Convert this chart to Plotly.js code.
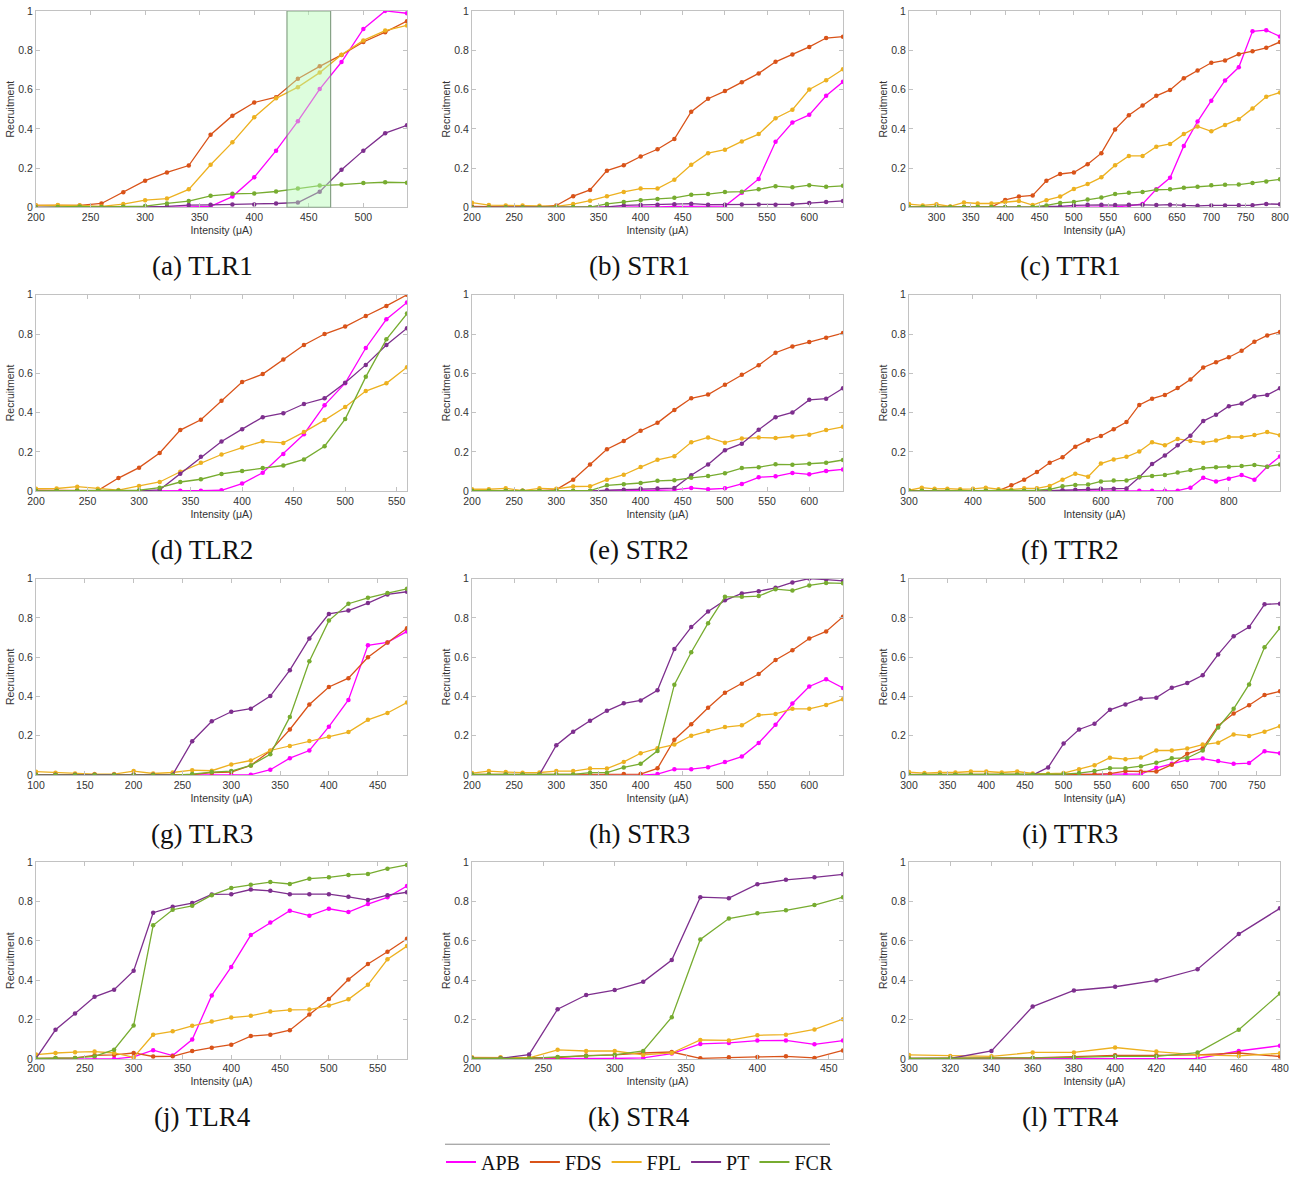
<!DOCTYPE html>
<html>
<head>
<meta charset="utf-8">
<script src="https://cdn.plot.ly/plotly-3.0.1.min.js"></script>
<style>html,body{margin:0;padding:0;background:#fff;}#chart{width:1293px;height:1182px;}</style>
</head>
<body>
<div id="chart"></div>
<script>
// ---------- series names and colours ----------
const muscles = ["APB", "FDS", "FPL", "PT", "FCR"];
const muscleColors = ["#FF00FF", "#D95319", "#EDB120", "#7E2F8E", "#77AC30"];

// ---------- (a) TLR1 ----------
const TLR1_x = [200,220,240,260,280,300,320,340,360,380,400,420,440,460,480,500,520,540];
const TLR1_APB = [0,0,0,0,0,0,0,0.002,0.005,0.055,0.153,0.289,0.439,0.602,0.74,0.908,1.0,0.988];
const TLR1_FDS = [0.01,0.01,0.01,0.02,0.077,0.136,0.178,0.213,0.37,0.467,0.534,0.561,0.655,0.718,0.776,0.842,0.892,0.948];
const TLR1_FPL = [0.01,0.012,0.01,0.005,0.017,0.037,0.045,0.092,0.217,0.331,0.459,0.555,0.612,0.686,0.777,0.85,0.9,0.926];
const TLR1_PT  = [0,0,0,0,0.002,0.003,0.005,0.012,0.013,0.015,0.015,0.02,0.025,0.08,0.192,0.289,0.378,0.418];
const TLR1_FCR = [0,0.002,0.005,0.002,0.003,0.007,0.02,0.032,0.059,0.069,0.071,0.081,0.096,0.111,0.116,0.124,0.128,0.126];
const TLR1_highlight = [430, 470];

// ---------- (b) STR1 ----------
const STR1_x = [200,220,240,260,280,300,320,340,360,380,400,420,440,460,480,500,520,540,560,580,600,620,640];
const STR1_APB = [0,0,0,0,0,0,0,0,0.002,0.002,0.002,0.003,0.005,0.005,0.005,0.007,0.074,0.145,0.334,0.432,0.471,0.568,0.639];
const STR1_FDS = [0.005,0.003,0.003,0.003,0.003,0.01,0.057,0.089,0.187,0.215,0.259,0.296,0.348,0.487,0.553,0.592,0.637,0.682,0.741,0.778,0.817,0.862,0.869];
const STR1_FPL = [0.024,0.012,0.01,0.01,0.008,0.005,0.017,0.034,0.057,0.079,0.096,0.096,0.141,0.217,0.276,0.294,0.336,0.373,0.454,0.497,0.6,0.647,0.703];
const STR1_PT  = [0,0,0,0,0,0,0,0,0.003,0.01,0.012,0.014,0.016,0.019,0.014,0.014,0.015,0.015,0.013,0.016,0.022,0.028,0.033];
const STR1_FCR = [0,0,0,0,0,0.002,0.002,0.002,0.018,0.028,0.037,0.043,0.049,0.064,0.068,0.078,0.08,0.092,0.108,0.102,0.113,0.105,0.11];

// ---------- (c) TTR1 ----------
const TTR1_x = [260,280,300,320,340,360,380,400,420,440,460,480,500,520,540,560,580,600,620,640,660,680,700,720,740,760,780,800];
const TTR1_APB = [0,0,0,0,0,0,0,0,0,0,0.002,0.002,0.002,0.003,0.003,0.003,0.008,0.018,0.092,0.151,0.313,0.437,0.543,0.646,0.713,0.896,0.902,0.87];
const TTR1_FDS = [0.002,0.002,0,0.003,0.002,0.002,0.002,0.038,0.055,0.061,0.136,0.17,0.178,0.22,0.276,0.397,0.469,0.519,0.568,0.598,0.657,0.697,0.736,0.748,0.78,0.795,0.812,0.842];
const TTR1_FPL = [0.017,0.01,0.016,0.005,0.025,0.02,0.02,0.028,0.033,0.012,0.037,0.055,0.094,0.119,0.153,0.215,0.262,0.262,0.309,0.323,0.373,0.412,0.387,0.42,0.449,0.504,0.563,0.585];
const TTR1_PT  = [0,0,0,0,0,0,0,0,0,0,0.005,0.005,0.01,0.013,0.013,0.012,0.014,0.013,0.012,0.014,0.01,0.008,0.01,0.01,0.011,0.011,0.018,0.016];
const TTR1_FCR = [0.002,0.002,0.002,0.002,0.002,0.002,0.002,0.002,0.002,0.002,0.01,0.023,0.028,0.04,0.05,0.068,0.074,0.079,0.09,0.092,0.1,0.105,0.113,0.115,0.116,0.124,0.132,0.143];

// ---------- (d) TLR2 ----------
const TLR2_x = [200,220,240,260,280,300,320,340,360,380,400,420,440,460,480,500,520,540,560];
const TLR2_APB = [0,0,0,0,0,0,0.002,0.003,0.003,0.005,0.039,0.094,0.19,0.29,0.438,0.55,0.729,0.875,0.961];
const TLR2_FDS = [0.005,0.005,0.005,0.003,0.067,0.12,0.195,0.311,0.364,0.46,0.556,0.596,0.67,0.744,0.8,0.838,0.892,0.943,1.0];
const TLR2_FPL = [0.013,0.014,0.023,0.013,0.006,0.027,0.047,0.099,0.145,0.187,0.222,0.254,0.246,0.301,0.362,0.429,0.51,0.549,0.631];
const TLR2_PT  = [0,0,0,0,0,0.002,0.007,0.089,0.175,0.253,0.316,0.377,0.397,0.444,0.473,0.552,0.643,0.744,0.83];
const TLR2_FCR = [0.002,0.002,0.002,0.002,0.002,0.005,0.018,0.047,0.061,0.088,0.103,0.118,0.131,0.162,0.229,0.367,0.582,0.773,0.904];

// ---------- (e) STR2 ----------
const STR2_x = [200,220,240,260,280,300,320,340,360,380,400,420,440,460,480,500,520,540,560,580,600,620,640];
const STR2_APB = [0,0,0,0,0,0,0,0,0.002,0.002,0.003,0.005,0.007,0.017,0.01,0.015,0.037,0.071,0.076,0.093,0.086,0.103,0.111];
const STR2_FDS = [0.003,0.003,0.003,0.003,0.003,0.008,0.059,0.136,0.214,0.256,0.308,0.348,0.414,0.473,0.492,0.542,0.593,0.641,0.705,0.737,0.759,0.781,0.805];
const STR2_FPL = [0.01,0.01,0.015,0.003,0.015,0.012,0.024,0.025,0.059,0.084,0.123,0.16,0.178,0.249,0.274,0.247,0.269,0.273,0.271,0.279,0.288,0.311,0.328];
const STR2_PT  = [0,0,0,0,0,0,0,0,0.005,0.008,0.013,0.014,0.016,0.081,0.136,0.209,0.242,0.313,0.377,0.401,0.465,0.471,0.524];
const STR2_FCR = [0.003,0.003,0.003,0.003,0.003,0.003,0.003,0.003,0.03,0.035,0.042,0.053,0.056,0.068,0.077,0.092,0.118,0.122,0.137,0.135,0.14,0.145,0.159];

// ---------- (f) TTR2 ----------
const TTR2_x = [300,320,340,360,380,400,420,440,460,480,500,520,540,560,580,600,620,640,660,680,700,720,740,760,780,800,820,840,860,880];
const TTR2_APB = [0,0,0,0,0,0,0,0,0,0,0,0,0.002,0.002,0.003,0.003,0.003,0.003,0.002,0.003,0.003,0.003,0.018,0.069,0.049,0.064,0.082,0.059,0.125,0.177];
const TTR2_FDS = [0.003,0.003,0.003,0.003,0.003,0.003,0.003,0.003,0.03,0.059,0.098,0.145,0.173,0.227,0.259,0.281,0.316,0.352,0.439,0.471,0.49,0.525,0.569,0.63,0.657,0.682,0.715,0.761,0.793,0.811];
const TTR2_FPL = [0.005,0.018,0.012,0.013,0.01,0.012,0.018,0.01,0.008,0.015,0.015,0.027,0.059,0.089,0.074,0.141,0.162,0.175,0.202,0.249,0.234,0.266,0.256,0.247,0.258,0.276,0.276,0.286,0.301,0.285];
const TTR2_PT  = [0,0,0,0,0,0,0,0,0,0,0,0.003,0.005,0.007,0.011,0.013,0.013,0.014,0.071,0.138,0.182,0.234,0.283,0.357,0.389,0.433,0.446,0.483,0.49,0.524];
const TTR2_FCR = [0.002,0.002,0.002,0.002,0.002,0.002,0.002,0.002,0.002,0.002,0.005,0.01,0.025,0.032,0.034,0.05,0.054,0.055,0.073,0.078,0.083,0.095,0.108,0.118,0.122,0.124,0.128,0.134,0.125,0.136];

// ---------- (g) TLR3 ----------
const TLR3_x = [100,120,140,160,180,200,220,240,260,280,300,320,340,360,380,400,420,440,460,480];
const TLR3_APB = [0,0,0,0,0,0,0,0,0,0,0.002,0.002,0.027,0.086,0.125,0.246,0.382,0.66,0.675,0.731];
const TLR3_FDS = [0.002,0.002,0.002,0.002,0.002,0.002,0.002,0.002,0.002,0.012,0.015,0.049,0.123,0.232,0.359,0.448,0.493,0.599,0.675,0.747];
const TLR3_FPL = [0.017,0.012,0.008,0.005,0.005,0.02,0.008,0.013,0.025,0.022,0.054,0.074,0.125,0.148,0.173,0.195,0.219,0.281,0.316,0.369];
const TLR3_PT  = [0.002,0.002,0.002,0.002,0.002,0.002,0.002,0.002,0.172,0.274,0.322,0.338,0.402,0.534,0.695,0.82,0.837,0.875,0.919,0.933];
const TLR3_FCR = [0,0,0,0,0,0,0,0,0.005,0.015,0.02,0.049,0.106,0.296,0.579,0.786,0.872,0.902,0.926,0.948];

// ---------- (h) STR3 ----------
const STR3_x = [200,220,240,260,280,300,320,340,360,380,400,420,440,460,480,500,520,540,560,580,600,620,640];
const STR3_APB = [0,0,0,0,0,0,0,0,0,0,0,0.005,0.03,0.03,0.04,0.066,0.094,0.163,0.256,0.364,0.451,0.488,0.443];
const STR3_FDS = [0.003,0.003,0.003,0.003,0.003,0.003,0.003,0.005,0.005,0.005,0.005,0.034,0.18,0.259,0.343,0.419,0.465,0.514,0.586,0.635,0.695,0.731,0.806];
const STR3_FPL = [0.01,0.02,0.015,0.012,0.013,0.02,0.02,0.033,0.033,0.067,0.111,0.136,0.155,0.2,0.224,0.244,0.253,0.305,0.311,0.337,0.337,0.357,0.386];
const STR3_PT  = [0.002,0.002,0.002,0.002,0.002,0.152,0.221,0.276,0.327,0.365,0.38,0.431,0.641,0.753,0.832,0.889,0.924,0.936,0.953,0.98,1.0,0.995,0.988];
const STR3_FCR = [0.003,0.003,0.003,0.003,0.003,0.003,0.003,0.012,0.012,0.039,0.057,0.123,0.46,0.625,0.773,0.907,0.907,0.911,0.946,0.939,0.965,0.978,0.976];

// ---------- (i) TTR3 ----------
const TTR3_x = [300,320,340,360,380,400,420,440,460,480,500,520,540,560,580,600,620,640,660,680,700,720,740,760,780];
const TTR3_APB = [0,0,0,0,0,0,0,0,0,0,0.002,0.003,0.003,0.005,0.005,0.005,0.037,0.057,0.077,0.084,0.072,0.057,0.061,0.121,0.111];
const TTR3_FDS = [0.003,0.003,0.003,0.003,0.003,0.003,0.003,0.003,0.003,0.003,0.003,0.003,0.003,0.007,0.02,0.018,0.018,0.053,0.108,0.136,0.251,0.313,0.355,0.407,0.426];
const TTR3_FPL = [0.015,0.01,0.013,0.013,0.018,0.018,0.013,0.018,0.008,0.007,0.01,0.03,0.05,0.088,0.081,0.089,0.125,0.125,0.135,0.155,0.165,0.207,0.199,0.221,0.249];
const TTR3_PT  = [0,0,0,0,0,0,0,0,0,0.039,0.16,0.232,0.261,0.332,0.359,0.389,0.394,0.444,0.468,0.508,0.614,0.707,0.753,0.869,0.872];
const TTR3_FCR = [0.002,0.002,0.002,0.002,0.002,0.002,0.002,0.002,0.002,0.002,0.005,0.01,0.02,0.035,0.035,0.045,0.062,0.085,0.087,0.125,0.242,0.337,0.461,0.65,0.749];

// ---------- (j) TLR4 ----------
const TLR4_x = [200,220,240,260,280,300,320,340,360,380,400,420,440,460,480,500,520,540,560,580];
const TLR4_APB = [0,0,0,0,0,0.01,0.044,0.017,0.098,0.323,0.468,0.63,0.694,0.754,0.729,0.764,0.747,0.788,0.822,0.88];
const TLR4_FDS = [0.002,0.005,0.005,0.018,0.02,0.03,0.012,0.013,0.04,0.057,0.072,0.116,0.123,0.146,0.226,0.305,0.404,0.483,0.545,0.611];
const TLR4_FPL = [0.022,0.03,0.034,0.037,0.03,0.008,0.123,0.14,0.168,0.19,0.21,0.219,0.241,0.249,0.251,0.271,0.303,0.377,0.507,0.574];
const TLR4_PT  = [0.003,0.148,0.231,0.316,0.352,0.448,0.744,0.774,0.793,0.837,0.838,0.862,0.855,0.838,0.838,0.838,0.825,0.808,0.833,0.848];
const TLR4_FCR = [0.002,0.005,0.005,0.013,0.047,0.17,0.68,0.759,0.779,0.833,0.87,0.886,0.9,0.89,0.917,0.924,0.936,0.941,0.968,0.987];

// ---------- (k) STR4 ----------
const STR4_x = [200,220,240,260,280,300,320,340,360,380,400,420,440,460];
const STR4_APB = [0,0,0,0.002,0.002,0.002,0.005,0.027,0.076,0.081,0.093,0.094,0.074,0.093];
const STR4_FDS = [0.005,0.005,0.005,0.007,0.017,0.02,0.03,0.035,0.003,0.008,0.01,0.013,0.005,0.043];
const STR4_FPL = [0.008,0.008,0.005,0.046,0.04,0.04,0.02,0.03,0.096,0.094,0.12,0.123,0.15,0.202];
const STR4_PT  = [0.003,0.003,0.022,0.253,0.325,0.35,0.392,0.503,0.823,0.818,0.889,0.911,0.924,0.939];
const STR4_FCR = [0.002,0.002,0.002,0.01,0.015,0.02,0.04,0.212,0.608,0.714,0.741,0.756,0.783,0.823];

// ---------- (l) TTR4 ----------
const TTR4_x = [300,320,340,360,380,400,420,440,460,480];
const TTR4_APB = [0,0,0,0,0.002,0.002,0.002,0.002,0.04,0.067];
const TTR4_FDS = [0.002,0.005,0.005,0.005,0.01,0.018,0.018,0.02,0.03,0.012];
const TTR4_FPL = [0.02,0.015,0.013,0.033,0.033,0.058,0.037,0.02,0.015,0.028];
const TTR4_PT  = [0.002,0.002,0.04,0.266,0.348,0.367,0.399,0.456,0.635,0.766];
const TTR4_FCR = [0.002,0.002,0.002,0.005,0.008,0.013,0.013,0.032,0.148,0.333];

// ---------- panel captions ----------
const captions = ["(a) TLR1","(b) STR1","(c) TTR1","(d) TLR2","(e) STR2","(f) TTR2",
                  "(g) TLR3","(h) STR3","(i) TTR3","(j) TLR4","(k) STR4","(l) TTR4"];

// ---------- assemble panels ----------
const panels = [
  {x:TLR1_x, s:[TLR1_APB,TLR1_FDS,TLR1_FPL,TLR1_PT,TLR1_FCR], range:[200,540], dtick:50},
  {x:STR1_x, s:[STR1_APB,STR1_FDS,STR1_FPL,STR1_PT,STR1_FCR], range:[200,640], dtick:50},
  {x:TTR1_x, s:[TTR1_APB,TTR1_FDS,TTR1_FPL,TTR1_PT,TTR1_FCR], range:[260,800], dtick:50},
  {x:TLR2_x, s:[TLR2_APB,TLR2_FDS,TLR2_FPL,TLR2_PT,TLR2_FCR], range:[200,560], dtick:50},
  {x:STR2_x, s:[STR2_APB,STR2_FDS,STR2_FPL,STR2_PT,STR2_FCR], range:[200,640], dtick:50},
  {x:TTR2_x, s:[TTR2_APB,TTR2_FDS,TTR2_FPL,TTR2_PT,TTR2_FCR], range:[300,880], dtick:100},
  {x:TLR3_x, s:[TLR3_APB,TLR3_FDS,TLR3_FPL,TLR3_PT,TLR3_FCR], range:[100,480], dtick:50},
  {x:STR3_x, s:[STR3_APB,STR3_FDS,STR3_FPL,STR3_PT,STR3_FCR], range:[200,640], dtick:50},
  {x:TTR3_x, s:[TTR3_APB,TTR3_FDS,TTR3_FPL,TTR3_PT,TTR3_FCR], range:[300,780], dtick:50},
  {x:TLR4_x, s:[TLR4_APB,TLR4_FDS,TLR4_FPL,TLR4_PT,TLR4_FCR], range:[200,580], dtick:50},
  {x:STR4_x, s:[STR4_APB,STR4_FDS,STR4_FPL,STR4_PT,STR4_FCR], range:[200,460], dtick:50},
  {x:TTR4_x, s:[TTR4_APB,TTR4_FDS,TTR4_FPL,TTR4_PT,TTR4_FCR], range:[300,480], dtick:20}
];

// ---------- layout geometry (pixels of the 1293x1182 page) ----------
const W = 1293, H = 1182;
const colPx = [[36,407],[472,843],[909,1280]];
const rowPx = [[11,209],[297,495],[583,781],[869,1067]];
const captionX = [202, 639, 1070];
const captionY = [268, 554, 840, 1126];

const axisFont = {family: "Liberation Sans, Arial, sans-serif", size: 10.5, color: "#333333"};
const lineGray = "#c2c2c2";

const data = [];
const layout = {
  width: W, height: H,
  margin: {l:0, r:0, t:0, b:0},
  paper_bgcolor: "#ffffff", plot_bgcolor: "#ffffff",
  showlegend: true,
  legend: {
    orientation: "h", x: 441/W, xanchor: "left", y: 1 - 1171/H, yanchor: "middle",
    font: {family: "Liberation Serif, serif", size: 20, color: "#111"},
    bgcolor: "rgba(0,0,0,0)", borderwidth: 0, tracegroupgap: 0
  },
  shapes: [], annotations: []
};

panels.forEach((p, i) => {
  const r = Math.floor(i / 3), c = i % 3;
  const xa = "xaxis" + (i ? i + 1 : ""), ya = "yaxis" + (i ? i + 1 : "");
  const xr = "x" + (i ? i + 1 : ""), yr = "y" + (i ? i + 1 : "");
  layout[xa] = {
    domain: [colPx[c][0]/W, colPx[c][1]/W], anchor: yr,
    range: p.range, tick0: 0, dtick: p.dtick,
    showline: true, mirror: "ticks", linecolor: lineGray, linewidth: 1,
    ticks: "inside", ticklen: 4, tickcolor: lineGray,
    showgrid: false, zeroline: false, tickfont: axisFont,
    title: {text: "Intensity (μA)", font: axisFont, standoff: 4}
  };
  layout[ya] = {
    domain: [1 - rowPx[r][1]/H, 1 - rowPx[r][0]/H], anchor: xr,
    range: [0, 1], dtick: 0.2, tick0: 0,
    showline: true, mirror: "ticks", linecolor: lineGray, linewidth: 1,
    ticks: "inside", ticklen: 4, tickcolor: lineGray,
    showgrid: false, zeroline: false, tickfont: axisFont,
    title: {text: "Recruitment", font: axisFont, standoff: 1}
  };
  p.s.forEach((ys, k) => {
    data.push({
      type: "scatter", mode: "lines+markers", x: p.x, y: ys,
      xaxis: xr, yaxis: yr, name: muscles[k], showlegend: false,
      line: {color: muscleColors[k], width: 1.3},
      marker: {color: muscleColors[k], size: 4.5, symbol: "circle"},
      hoverinfo: "x+y+name"
    });
  });
  layout.annotations.push({
    xref: "paper", yref: "paper", x: captionX[c]/W, y: 1 - captionY[r]/H,
    xanchor: "center", yanchor: "middle", showarrow: false,
    text: captions[i], font: {family: "Liberation Serif, serif", size: 27, color: "#111"}
  });
});

// highlighted stimulation window in panel (a)
layout.shapes.push({
  type: "rect", xref: "x", yref: "y", x0: TLR1_highlight[0], x1: TLR1_highlight[1], y0: 0, y1: 1,
  fillcolor: "rgba(180,250,180,0.45)", line: {color: "rgba(110,140,110,0.8)", width: 1.2}, layer: "above"
});

// rule above the legend
layout.shapes.push({
  type: "line", xref: "paper", yref: "paper", x0: 445/W, x1: 830/W, y0: 1 - 1153/H, y1: 1 - 1153/H,
  line: {color: "#8a8a8a", width: 1}
});

// legend entries (line-only keys)
muscles.forEach((m, k) => {
  data.push({
    type: "scatter", mode: "lines", x: [null], y: [null], xaxis: "x", yaxis: "y",
    name: m, showlegend: true, line: {color: muscleColors[k], width: 2}, hoverinfo: "skip"
  });
});

Plotly.newPlot("chart", data, layout, {displayModeBar: false, staticPlot: true});
</script>
</body>
</html>
